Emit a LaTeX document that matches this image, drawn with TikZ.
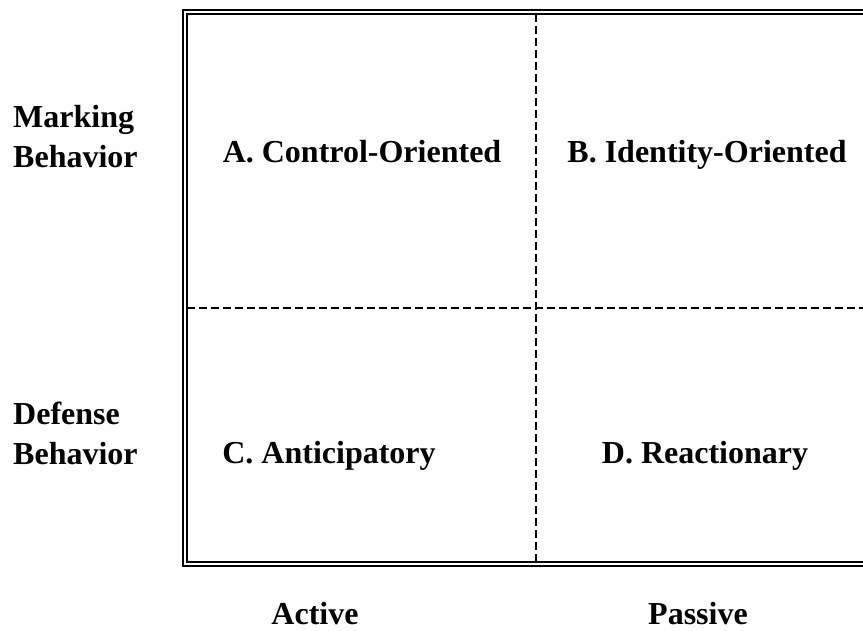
\documentclass[tikz,border=0pt]{standalone}
\usepackage{fontspec}
\setmainfont{Liberation Serif}
\usetikzlibrary{positioning}

\begin{document}
\begin{tikzpicture}[x=1pt, y=-1pt, font=\fontsize{32}{40}\selectfont\bfseries,
    axis/.style={align=left, anchor=west, inner sep=0pt},
    cell/.style={inner sep=0pt, anchor=base},
    split/.style={line width=2pt, dash pattern=on 8pt off 4pt}]
    \useasboundingbox (0,0) rectangle (863,631);
    \clip (0,0) rectangle (863,631);

    % frame and the two dashed splits
    \draw[line width=2pt, double, double distance=2pt] (185,12) rectangle (895,564);
    \draw[split] (536,14) -- (536,562);
    \draw[split] (187,308) -- (863,308);

    \node[axis] (marking) at (13,137) {Marking\\Behavior};
    \node[axis] (defense) at (13,433) {Defense\\Behavior};

    \node[cell] (ctrl) at (362,163) {A. Control-Oriented};
    \node[cell] (ident) at (707,163) {B. Identity-Oriented};
    \node[cell] (antic) at (329,463) {C. Anticipatory};
    \node[cell] (react) at (705,463) {D. Reactionary};

    \node[cell] (active) at (315,624) {Active};
    \node[cell] (passive) at (698,624) {Passive};
\end{tikzpicture}
\end{document}
